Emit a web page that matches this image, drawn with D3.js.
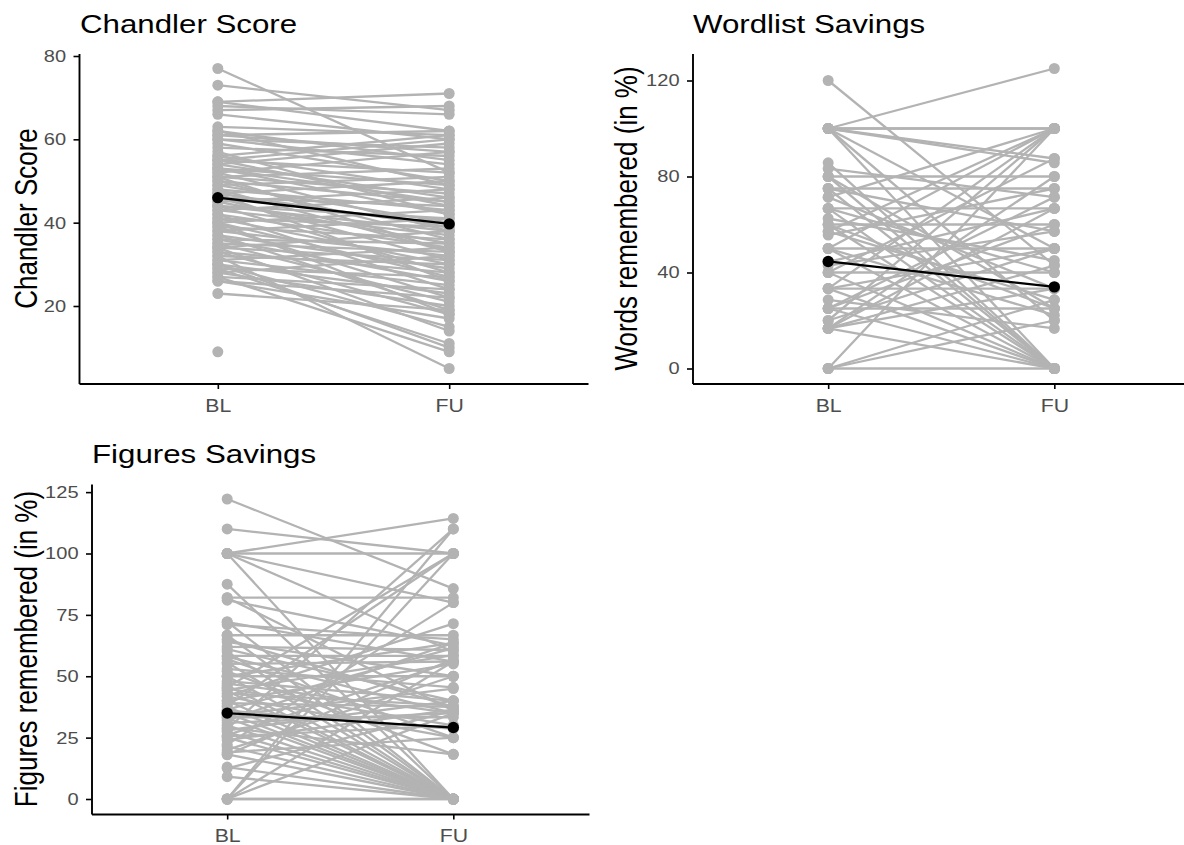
<!DOCTYPE html>
<html>
<head>
<meta charset="utf-8">
<script src="https://cdn.jsdelivr.net/npm/d3@7"></script>
<style>
  body { margin: 0; background: #fff; }
  svg { display: block; }
  text { font-family: "Liberation Sans", Arial, Helvetica, sans-serif; }
</style>
</head>
<body>
<svg id="chart" width="1184" height="845"></svg>
<script>
/*******************************************************************************************/
// Data (paired by subject: BL[i] -> FU[i], null = missing)

var timepoints = ['BL', 'FU'];

var chandlerBL = [77, 73, 69, 69, 68, 67, 66, 63, 62, 62, 61, 61, 60, 60, 59, 58, 57, 56, 56, 55,
                  55, 55, 54, 54, 53, 53, 53, 52, 52, 51, 51, 51, 50, 50, 49, 49, 48, 48, 47, 47,
                  47, 46, 46, 45, 45, 44, 44, 44, 43, 43, 42, 42, 41, 41, 40, 40, 40, 39, 39, 38,
                  38, 37, 37, 36, 36, 35, 35, 34, 34, 34, 33, 33, 32, 32, 31, 31, 30, 30, 30, 29,
                  29, 28, 28, 27, 27, 26, 26, 23, 9];
var chandlerFU = [52, 67, 71, 62, 66, 68, 60, 61, 55, 49, 62, 57, 58, 54, 50, 56, 42, 48, 61, 44,
                  52, 60, 59, 46, 49, 42, 45, 57, 38, 47, 53, 33, 45, 36, 51, 40, 43, 33, 50, 39,
                  26, 44, 31, 48, 35, 41, 28, 38, 46, 37, 34, 24, 39, 30, 43, 27, 18, 36, 22, 32,
                  41, 29, 19, 35, 26, 33, 21, 31, 38, 14, 28, 18, 30, 5, 25, 34, 23, 15, 10, 27,
                  11, 20, 32, 24, 9, 22, 17, 19, null];
var chandlerMean = [46.0, 39.7];
var chandlerTicks = [20, 40, 60, 80];

var wordBL = [120, 100, 100, 100, 100, 100, 100, 100, 100, 85.7, 83.3, 80, 80, 80, 75, 75, 75, 71.4, 71.4, 66.7,
              66.7, 66.7, 62.5, 60, 60, 60, 57.1, 57.1, 55.6, 50, 50, 50, 50, 44.4, 42.9, 40, 40, 40, 33.3, 33.3,
              33.3, 33.3, 28.6, 25, 25, 25, 25, 20, 20, 16.7, 16.7, 16.7, 16.7, 16.7, 0, 0, 0, 0];
var wordFU = [43, 125, 100, 100, 87.5, 85.7, 0, 20, 50, 0, 71.4, 80, 0, 25, 75, 57.1, 0, 100, 33.3, 66.7,
              40, 0, 45, 60, 25, 0, 100, 28.6, 75, 50, 100, 22.2, 0, 66.7, 57.1, 40, 0, 87.5, 33.3, 100,
              50, 0, 16.7, 25, 71.4, 60, 0, 50, 100, 42.9, 80, 66.7, 0, 33.3, 0, 100, 28.6, 20];
var wordMean = [44.6, 34.0];
var wordTicks = [0, 40, 80, 120];

var figBL = [122.2, 110, 100, 100, 100, 100, 100, 87.5, 82, 82, 81, 72.2, 72, 71, 66.7, 66.7, 65, 64, 62, 61,
             60, 58.3, 58, 57, 55.6, 55, 53, 52, 50, 50, 50, 48, 47, 46.2, 45.5, 45, 44.4, 44, 43, 42,
             41.7, 40, 40, 39, 38, 37.5, 36.4, 36, 35, 34, 33.3, 33, 32, 31, 30, 29, 28.6, 28, 27.3, 26,
             25.5, 25, 24, 22.2, 21.4, 20, 19, 18.2, 18, 13, 12.5, 9.1, 0, 0, 0, 0, 0, 0];
var figFU = [85.7, 100, 114.3, 100, 80, 0, 60, 0, 82, 36, 62.5, 0, 56, 65, 66.7, 0, 37.5, 50, 60.7, 40,
             0, 58.3, 35, 25, 0, 56, 45.5, 18.2, 50, 0, 63.6, 40, 35, 0, 100, 30, 58.6, 0, 38, 71.4,
             25, 0, 55, 37.5, 100, 0, 61.5, 28.6, 0, 45, 33.3, 0, 63.6, 35, 0, 18.2, 110, 40, 0, 56,
             30, 0, 36.4, 80, 0, 50, 25, 0, 57, 0, 36, 0, 0, 110, 100, 56, 35, 0];
var figMean = [35.0, 29.1];
var figTicks = [0, 25, 50, 75, 100, 125];

/*******************************************************************************************/
// Panel layout

var panels = [
  { title: 'Chandler Score', ylab: 'Chandler Score', bl: chandlerBL, fu: chandlerFU, mean: chandlerMean, ticks: chandlerTicks,
    left: 79, right: 588, top: 53.5, bottom: 383.5, titleX: 80, titleY: 33.3, labX: 36.5 },
  { title: 'Wordlist Savings', ylab: 'Words remembered (in %)', bl: wordBL, fu: wordFU, mean: wordMean, ticks: wordTicks,
    left: 692.5, right: 1190, top: 53.5, bottom: 383.5, titleX: 693, titleY: 33.3, labX: 636.5 },
  { title: 'Figures Savings', ylab: 'Figures remembered (in %)', bl: figBL, fu: figFU, mean: figMean, ticks: figTicks,
    left: 91.5, right: 589, top: 484, bottom: 814, titleX: 92, titleY: 463, labX: 37 }
];

var stretch = 1.18;     // the reference glyphs are wider than normal
var grey = '#b3b3b3';

/*******************************************************************************************/
// Drawing

function drawPanel(p){
  var g = d3.select('#chart').append('g');

  var vals = p.bl.concat(p.fu, p.mean).filter(function(v){ return v != null });
  var lo = d3.min(vals), hi = d3.max(vals), pad = (hi - lo) * 0.05;

  var y = d3.scaleLinear().domain([lo - pad, hi + pad]).range([p.bottom, p.top]);
  var x = d3.scalePoint().domain(timepoints).range([p.left, p.right]).padding(0.6);

  var lineGen = d3.line().x(function(d, i){ return x(timepoints[i]) }).y(function(d){ return y(d) });

  var pairs = p.bl.map(function(v, i){ return [v, p.fu[i]] });
  var points = [];
  pairs.forEach(function(d){
    d.forEach(function(v, i){ if (v != null) points.push({ t: timepoints[i], v: v }) });
  });

  // subject lines
  g.append('g').selectAll('path')
    .data(pairs.filter(function(d){ return d[0] != null && d[1] != null }))
    .join('path')
    .attr('d', lineGen)
    .attr('fill', 'none')
    .attr('stroke', grey)
    .attr('stroke-width', 2.3);

  g.append('g').selectAll('circle')
    .data(points)
    .join('circle')
    .attr('cx', function(d){ return x(d.t) })
    .attr('cy', function(d){ return y(d.v) })
    .attr('r', 5.5)
    .attr('fill', grey);

  // mean
  g.append('path')
    .attr('d', lineGen(p.mean))
    .attr('fill', 'none')
    .attr('stroke', '#000')
    .attr('stroke-width', 2.3);

  g.append('g').selectAll('circle')
    .data(p.mean)
    .join('circle')
    .attr('cx', function(d, i){ return x(timepoints[i]) })
    .attr('cy', function(d){ return y(d) })
    .attr('r', 5.7)
    .attr('fill', '#000');

  // axes
  var yAxis = g.append('g')
    .attr('transform', 'translate(' + p.left + ',0)')
    .call(d3.axisLeft(y).tickValues(p.ticks).tickSize(5.5).tickPadding(5.5).tickSizeOuter(0));

  var xAxis = g.append('g')
    .attr('transform', 'translate(0,' + p.bottom + ')')
    .call(d3.axisBottom(x).tickSize(5.5).tickPadding(10).tickSizeOuter(0));

  [yAxis, xAxis].forEach(function(ax){
    ax.attr('font-family', null).attr('font-size', null);
    ax.select('.domain').attr('stroke', '#000').attr('stroke-width', 1.9);
    ax.selectAll('.tick line').attr('stroke', '#000').attr('stroke-width', 1.6);
    ax.selectAll('.tick text')
      .attr('fill', '#4d4d4d')
      .attr('transform', 'scale(' + stretch + ',1)');
  });
  yAxis.selectAll('.tick text').style('font-size', '17px');
  xAxis.selectAll('.tick text').style('font-size', '18px');

  // titles
  g.append('text')
    .attr('transform', 'translate(' + p.titleX + ',' + p.titleY + ') scale(' + stretch + ',1)')
    .style('font-size', '26.5px')
    .attr('fill', '#000')
    .text(p.title);

  g.append('text')
    .attr('transform', 'translate(' + p.labX + ',' + ((p.top + p.bottom) / 2) + ') scale(' + stretch + ',1) rotate(-90)')
    .attr('text-anchor', 'middle')
    .style('font-size', '26px')
    .attr('fill', '#000')
    .text(p.ylab);
}

panels.forEach(drawPanel);
</script>
</body>
</html>
